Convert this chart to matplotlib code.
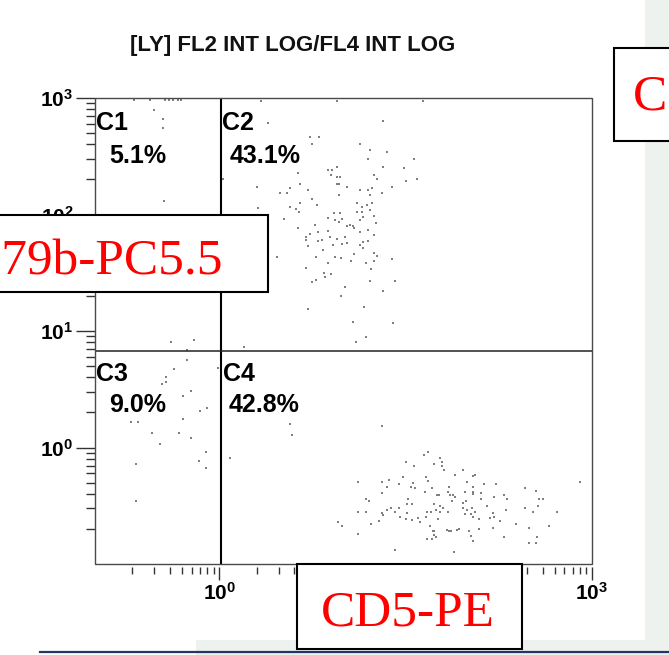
import matplotlib.pyplot as plt
import numpy as np
from matplotlib.lines import Line2D
from matplotlib.patches import Rectangle
from matplotlib.ticker import FixedFormatter, FixedLocator, LogLocator, NullFormatter

plt.rcParams['font.family'] = 'Liberation Sans'
plt.rcParams['mathtext.fontset'] = 'custom'
plt.rcParams['mathtext.rm'] = 'Liberation Sans'
plt.rcParams['mathtext.bf'] = 'Liberation Sans:bold'

title = '[LY] FL2 INT LOG/FL4 INT LOG'
x_marker = 'CD5-PE'
y_marker = 'CD79b-PC5.5'
third_marker = 'C'

quadrants = ['C1', 'C2', 'C3', 'C4']
percents = [5.1, 43.1, 9.0, 42.8]

# gate positions (linear intensity)
x_gate = 1.04
y_gate = 6.7

decades = [1, 10, 100, 1000]
y_decade_labels = [r'$\mathbf{10^{0}}$', r'$\mathbf{10^{1}}$', r'$\mathbf{10^{2}}$', r'$\mathbf{10^{3}}$']
# 10^1 and 10^2 sit under the CD5-PE box on the x axis
x_decade_labels = [r'$\mathbf{10^{0}}$', '', '', r'$\mathbf{10^{3}}$']

# listmode events, 1024 channels over 4 log decades
c1_fl2 = [80, 113, 144, 152, 161, 171, 177, 122, 140, 140, 142, 157, 204, 190]
c1_fl4 = [1020, 1020, 1020, 1020, 1020, 1020, 1020, 997, 978, 958, 798, 488, 492, 470]

c2_fl2 = [342, 499, 676, 356, 593, 443, 461, 447, 546, 567, 602, 562, 657, 499, 593, 637,
          480, 488, 418, 486, 499, 505, 575, 581, 641, 663, 264, 422, 499, 503, 519, 612,
          402, 334, 439, 546, 562, 571, 381, 396, 503, 567, 591, 447, 422, 540, 560, 571,
          457, 402, 550, 414, 420, 540, 550, 567, 505, 492, 336, 575, 480, 389, 509, 503,
          552, 546, 579, 494, 453, 525, 531, 519, 418, 534, 546, 562, 480, 443, 459, 575,
          435, 435, 484, 515, 468, 499, 562, 552, 459, 490, 509, 546, 519, 439, 552, 470,
          534, 575, 375, 455, 494, 507, 581, 612, 527, 558, 575, 480, 435, 569, 472, 486,
          474, 447, 455, 567, 618, 515, 593, 507, 439, 554, 531, 614, 538, 558, 307]
c2_fl4 = [1017, 1017, 1017, 969, 973, 938, 938, 923, 923, 910, 905, 890, 890, 872, 872, 870,
          866, 866, 859, 855, 850, 850, 855, 846, 841, 846, 846, 835, 835, 835, 828, 828,
          826, 828, 822, 822, 822, 826, 815, 815, 811, 811, 815, 802, 793, 793, 789, 793,
          789, 784, 784, 780, 773, 773, 773, 778, 771, 771, 782, 765, 760, 758, 758, 751,
          762, 756, 749, 756, 745, 745, 743, 743, 738, 738, 729, 734, 732, 725, 729, 723,
          718, 712, 718, 718, 712, 714, 710, 707, 710, 701, 703, 701, 705, 699, 694, 690,
          681, 683, 674, 674, 674, 672, 677, 670, 666, 661, 666, 661, 650, 648, 639, 637,
          631, 620, 624, 622, 622, 609, 600, 589, 560, 565, 532, 529, 488, 499, 477]

c3_fl2 = [190, 163, 253, 146, 146, 138, 198, 181, 231, 216, 181, 74, 89, 117, 173, 198,
          134, 229, 214, 84, 229, 84]
c3_fl4 = [448, 428, 431, 411, 400, 395, 380, 369, 343, 336, 319, 312, 312, 288, 288, 277,
          264, 246, 226, 220, 211, 138]

c4_fl2 = [402, 406, 278, 591, 686, 678, 711, 641, 657, 698, 715, 715, 719, 742, 634, 682,
          606, 591, 542, 626, 655, 686, 651, 659, 694, 729, 602, 680, 591, 727, 731, 737,
          709, 705, 645, 558, 564, 735, 742, 643, 653, 698, 711, 717, 610, 626, 602, 618,
          684, 692, 711, 727, 702, 542, 558, 591, 593, 643, 665, 682, 628, 641, 707, 653,
          670, 585, 501, 509, 569, 690, 696, 698, 725, 729, 733, 542, 698, 684, 694, 702,
          746, 758, 779, 783, 766, 801, 826, 779, 762, 779, 779, 795, 886, 908, 999, 843,
          849, 795, 822, 764, 758, 915, 923, 808, 758, 766, 777, 886, 913, 902, 952, 847,
          783, 775, 762, 820, 779, 814, 822, 791, 834, 867, 894, 935, 820, 750, 770, 791,
          775, 843, 911, 618, 740, 779, 894, 908]
c4_fl4 = [308, 283, 233, 303, 246, 239, 233, 224, 215, 220, 224, 215, 207, 196, 191, 191,
          185, 180, 180, 176, 178, 182, 169, 167, 167, 169, 169, 158, 156, 158, 152, 152,
          152, 152, 143, 143, 138, 138, 147, 132, 132, 132, 127, 123, 123, 123, 119, 114,
          114, 114, 114, 114, 119, 114, 114, 112, 108, 112, 101, 103, 103, 99, 99, 97,
          92, 94, 92, 83, 88, 83, 73, 73, 75, 73, 73, 66, 64, 55, 55, 59,
          75, 207, 193, 196, 180, 176, 176, 169, 158, 158, 154, 156, 167, 160, 180, 152,
          143, 143, 147, 138, 134, 143, 143, 127, 123, 119, 123, 123, 127, 114, 114, 119,
          114, 110, 110, 112, 103, 101, 103, 99, 94, 88, 79, 83, 79, 77, 73, 77,
          62, 59, 59, 31, 26, 51, 46, 46]


def channel_to_value(ch):
    return 10 ** (np.asarray(ch, dtype=float) / 256 - 1)


fl2 = channel_to_value(c1_fl2 + c2_fl2 + c3_fl2 + c4_fl2)
fl4 = channel_to_value(c1_fl4 + c2_fl4 + c3_fl4 + c4_fl4)

W, H = 669, 655


def fx(px):
    return px / W


def fy(py):
    return 1 - py / H


fig = plt.figure(figsize=(W / 100, H / 100), dpi=100)

# slide background around the plot
fig.add_artist(Rectangle((fx(645), 0), 1 - fx(645), 1, transform=fig.transFigure,
                         facecolor='#eef2ef', edgecolor='none', zorder=-2))
fig.add_artist(Rectangle((fx(196), 0), 1 - fx(196), fy(640), transform=fig.transFigure,
                         facecolor='#eef2ef', edgecolor='none', zorder=-2))
fig.add_artist(Line2D([fx(40), 1], [fy(652), fy(652)], transform=fig.transFigure,
                      color='#1f3864', lw=1.6, zorder=-1))

ax = fig.add_axes([fx(95), fy(564), 497 / W, 466 / H])
ax.set_xscale('log')
ax.set_yscale('log')
ax.set_xlim(0.1, 1000)
ax.set_ylim(0.1, 1000)

ax.scatter(fl2, fl4, s=4.5, marker='s', c='#808080', linewidths=0, zorder=2)

ax.axvline(x_gate, color='black', lw=1.5, zorder=3)
ax.axhline(y_gate, color='#222222', lw=1.1, zorder=3)

# quadrant names and percentages
name_pos = [(0.002, 0.972), (0.256, 0.972), (0.002, 0.433), (0.258, 0.433)]
pct_pos = [(0.028, 0.902), (0.270, 0.902), (0.028, 0.366), (0.268, 0.366)]
for name, pct, (nx, ny), (px, py) in zip(quadrants, percents, name_pos, pct_pos):
    ax.text(nx, ny, name, transform=ax.transAxes, ha='left', va='top',
            fontsize=18, fontweight='bold', color='black', zorder=4)
    ax.text(px, py, f'{pct:.1f}%', transform=ax.transAxes, ha='left', va='top',
            fontsize=18, fontweight='bold', color='black', zorder=4)

# frame drawn separately so the x ticks can sit a little below it
for s in ax.spines.values():
    s.set_visible(False)
ax.spines['bottom'].set_position(('outward', 2.2))
ax.add_patch(Rectangle((0, 0), 1, 1, transform=ax.transAxes, fill=False,
                       edgecolor='#4a4a4a', lw=1.0, clip_on=False, zorder=3))

for axis, labels in ((ax.xaxis, x_decade_labels), (ax.yaxis, y_decade_labels)):
    axis.set_major_locator(FixedLocator(decades))
    axis.set_major_formatter(FixedFormatter(labels))
    axis.set_minor_locator(LogLocator(base=10, subs=np.arange(2, 10)))
    axis.set_minor_formatter(NullFormatter())

ax.tick_params(axis='y', which='major', direction='out', length=14, width=1.0,
               color='#333333', pad=1.5, labelsize=15)
ax.tick_params(axis='y', which='minor', direction='out', length=6.5, width=1.0,
               color='#333333')
ax.tick_params(axis='x', which='major', direction='out', length=9.5, width=1.0,
               color='#333333', pad=1.5, labelsize=15)
ax.tick_params(axis='x', which='minor', direction='out', length=5, width=1.0,
               color='#333333')

fig.text(fx(293), fy(45), title, ha='center', va='center', fontsize=16,
         fontweight='bold', color='#111111')

# marker name boxes
box_style = dict(transform=fig.transFigure, facecolor='white', edgecolor='black',
                 lw=1.5, zorder=5)
fig.add_artist(Rectangle((fx(-10), fy(292)), 278 / W, 77 / H, **box_style))
fig.add_artist(Rectangle((fx(297), fy(649)), 225 / W, 85 / H, **box_style))
fig.add_artist(Rectangle((fx(614), fy(141)), 80 / W, 93 / H, **box_style))

label_style = dict(family='Liberation Serif', fontsize=37, color='#ff0000', zorder=6)
fig.text(fx(223), fy(275), y_marker, ha='right', va='baseline', **label_style)
fig.text(fx(408), fy(625), x_marker, ha='center', va='baseline', **label_style)
fig.text(fx(633), fy(110), third_marker, ha='left', va='baseline', **label_style)

fig.savefig('out.png', dpi=100)
